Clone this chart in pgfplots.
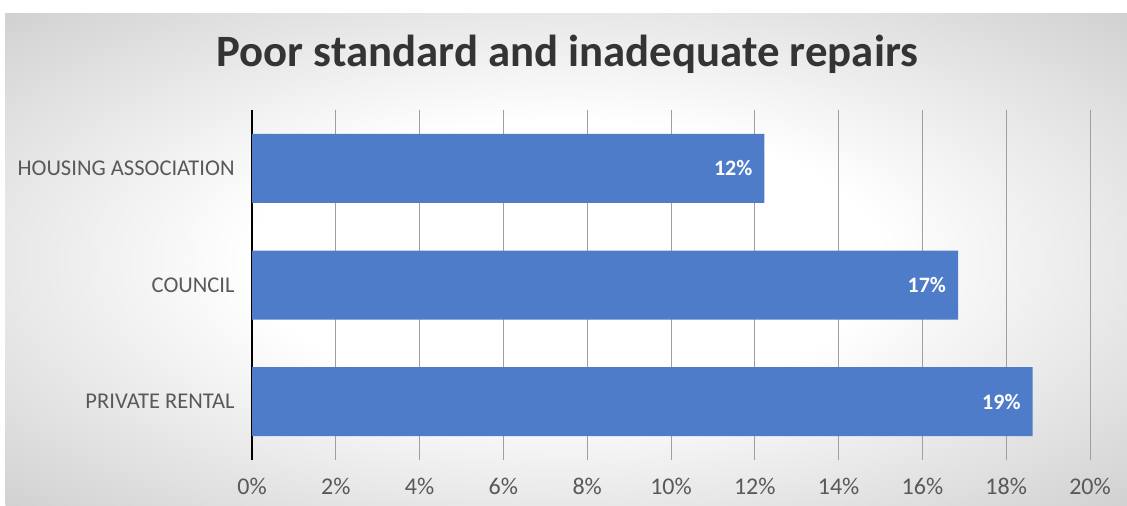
\documentclass[border=0pt]{standalone}
\usepackage{pgfplots}
\pgfplotsset{compat=1.18}
\usepackage{pgfplotstable}
\usepackage{fontspec}
\setmainfont{Carlito}
\definecolor{barblue}{RGB}{79,124,201}
\definecolor{ticktxt}{RGB}{89,89,89}
\definecolor{titletxt}{RGB}{52,52,52}
\definecolor{bgedge}{RGB}{178,178,178}
\pgfdeclareradialshading{bgshade}{\pgfpoint{0bp}{0bp}}{color(0bp)=(white); color(14bp)=(white); color(50bp)=(bgedge)}
\pgfplotstableread{
y val lab
0 12.23 12
1 16.85 17
2 18.63 19
}\datatab
\begin{document}
\begin{tikzpicture}
\fill[white] (0,0) rectangle (845.25pt,379.5pt);
\shade[shading=bgshade] (4pt,0) rectangle (845.25pt,369pt);
\node[anchor=base, font=\bfseries\fontsize{33.6}{40}\selectfont, text=titletxt] at (425.5pt,329.5pt) {Poor standard and inadequate repairs};
\begin{axis}[
  scale only axis,
  width=628.5pt, height=262.5pt,
  at={(189pt,34.5pt)}, anchor=south west,
  xmin=0, xmax=20, ymin=-0.5, ymax=2.5,
  y dir=reverse,
  axis x line*=bottom,
  axis y line*=left,
  x axis line style={draw=none},
  y axis line style={draw=black, line width=1.6pt, -},
  major tick length=0pt,
  xtick={0,2,4,6,8,10,12,14,16,18,20},
  xticklabels={0\%,2\%,4\%,6\%,8\%,10\%,12\%,14\%,16\%,18\%,20\%},
  ytick={0,1,2},
  yticklabels={HOUSING ASSOCIATION,COUNCIL,PRIVATE RENTAL},
  xmajorgrids,
  grid style={draw=gray!75, line width=0.6pt},
  xticklabel style={font=\fontsize{18}{20}\selectfont, text=ticktxt, yshift=-10pt},
  yticklabel style={font=\fontsize{16.9}{19}\selectfont, text=ticktxt, xshift=-9.5pt},
  axis on top=false,
]
\addplot[xbar, bar width=51.75pt, fill=barblue, draw=none,
  point meta=explicit symbolic,
  nodes near coords={\pgfplotspointmeta\%},
  every node near coord/.append style={anchor=east, xshift=-5.5pt, text=white, font=\bfseries\fontsize{16.5}{18}\selectfont}]
  table[x=val, y=y, meta=lab] {\datatab};
\end{axis}
\end{tikzpicture}
\end{document}
